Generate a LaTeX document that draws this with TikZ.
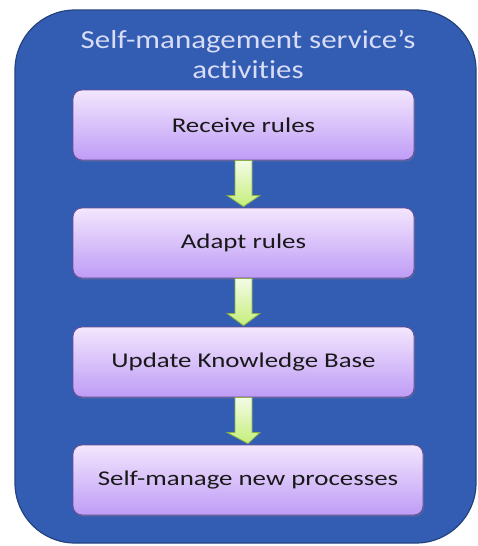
\documentclass[tikz,border=0pt]{standalone}
\usepackage{fontspec}
\setmainfont[Ligatures={NoCommon}]{Carlito}
\usetikzlibrary{calc,shadows}
\definecolor{outerfill}{HTML}{335DB3}
\definecolor{outerdraw}{HTML}{24447F}
\definecolor{titlecol}{HTML}{D8DCF6}
\definecolor{boxtop}{HTML}{F3E6FD}
\definecolor{boxbot}{HTML}{BE9CF6}
\definecolor{boxdraw}{HTML}{6A4C96}
\definecolor{arrtop}{HTML}{F4FCE6}
\definecolor{arrbot}{HTML}{C4EE7A}
\definecolor{arrdraw}{HTML}{8CB048}
\newcommand{\wideA}[1]{\scalebox{1.19}[1]{#1}}
\newcommand{\wideB}[1]{\scalebox{1.28}[1]{#1}}
\tikzset{
  x=1pt,y=-1pt,
  stepbox/.style={rectangle, rounded corners=9pt, draw=boxdraw, line width=0.8pt,
    top color=boxtop, bottom color=boxbot, minimum height=70pt,
    font=\fontsize{21}{24}\selectfont, text=black!90,
    drop shadow={shadow xshift=1pt, shadow yshift=-1.5pt, opacity=0.35}},
  flowarrow/.style={draw=arrdraw, line width=0.8pt, top color=arrtop, bottom color=arrbot, line join=miter}
}
\newcommand{\flowdown}[2]{%
  \path[flowarrow] ($(#1.south)+(-8.5,0)$) -- ($(#1.south)+(8.5,0)$)
    -- ($(#1.south)+(8.5,35)$) -- ($(#1.south)+(16.5,35)$)
    -- ($(#2.north)+(0,-1)$) -- ($(#1.south)+(-16.5,35)$)
    -- ($(#1.south)+(-8.5,35)$) -- cycle;}
\begin{document}
\begin{tikzpicture}
\useasboundingbox (0,0) rectangle (477,546);
\draw[fill=outerfill, draw=outerdraw, line width=1.2pt, rounded corners=60pt] (15,10) rectangle (476,543);
\node[text=titlecol, font=\fontsize{26}{30}\selectfont, align=center] (title) at (248,54)
  {\wideA{Self-management service’s}\\\wideA{activities}};
\node[stepbox, minimum width=341pt] (b1) at (243.5,125) {\wideB{Receive rules}};
\node[stepbox, minimum width=341pt] (b2) at (243.5,243) {\wideB{Adapt rules}};
\node[stepbox, minimum width=341pt] (b3) at (243.5,362) {\wideB{Update Knowledge Base}};
\node[stepbox, minimum width=350pt] (b4) at (248,480) {\wideB{Self-manage new processes}};
\flowdown{b1}{b2}
\flowdown{b2}{b3}
\flowdown{b3}{b4}
\end{tikzpicture}
\end{document}
